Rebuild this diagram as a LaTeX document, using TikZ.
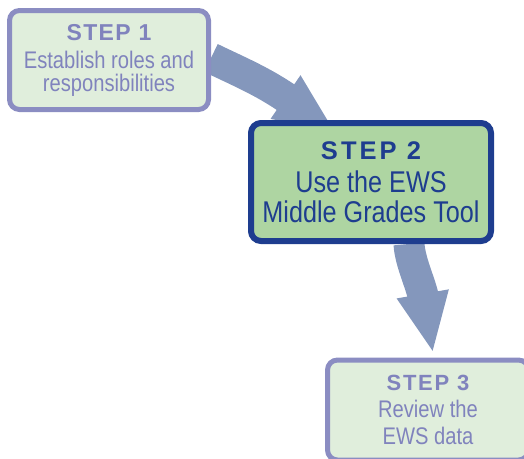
\documentclass[tikz,border=0pt]{standalone}
\usepackage{fontspec}
\setmainfont{Liberation Sans}
\newfontfamily\condfont{Liberation Sans}[FakeStretch=0.84]
\usetikzlibrary{arrows.meta}
\pgfdeclarelayer{background}
\pgfsetlayers{background,main}
\definecolor{lavline}{RGB}{139,141,194}
\definecolor{lavtext}{RGB}{128,131,189}
\definecolor{palefill}{RGB}{224,238,220}
\definecolor{greenfill}{RGB}{174,213,162}
\definecolor{navy}{RGB}{30,61,143}
\definecolor{arrowblue}{RGB}{132,151,188}
\tikzset{
  minorbox/.style={draw=lavline, line width=5pt, fill=palefill, rounded corners=10pt,
    text=lavtext, align=center},
  majorbox/.style={draw=navy, line width=6pt, fill=greenfill, rounded corners=10pt,
    text=navy, align=center},
  fatarrow/.style={draw=arrowblue, line width=31pt,
    -{Triangle[width=48pt,length=60pt]}, fill=arrowblue}
}
\newcommand{\steplabel}[3]{{\rmfamily\fontsize{#1}{#1}\selectfont\bfseries\addfontfeature{LetterSpace=#2}#3}}
\begin{document}
\begin{tikzpicture}[x=1pt,y=-1pt]
\useasboundingbox (0,0) rectangle (524,458);
\node[minorbox, minimum width=199pt, minimum height=99pt, font=\condfont\fontsize{24}{23.5}\selectfont] (s1) at (109,60)
  {\rule{0pt}{17pt}\steplabel{23}{6}{STEP 1}\\[4pt]Establish roles and\\responsibilities};
\node[majorbox, minimum width=240pt, minimum height=118pt, font=\condfont\fontsize{30}{30}\selectfont] (s2) at (371,182)
  {\steplabel{25.5}{12}{STEP 2}\\[3pt]Use the EWS\\Middle Grades Tool};
\node[minorbox, minimum width=201pt, minimum height=100pt, font=\condfont\fontsize{24}{27}\selectfont] (s3) at (428,410)
  {\steplabel{22}{8}{STEP 3}\\[0pt]Review the\\EWS data};
\coordinate (t1) at (335,131);
\coordinate (t2) at (433,353);
\begin{pgfonlayer}{background}
\draw[fatarrow] ([yshift=2pt]s1.east) .. controls (240,72) and (262,81) .. (t1);
\draw[fatarrow] ([xshift=38pt]s2.south) .. controls (410,262) and (421,284) .. (t2);
\end{pgfonlayer}
\end{tikzpicture}
\end{document}
